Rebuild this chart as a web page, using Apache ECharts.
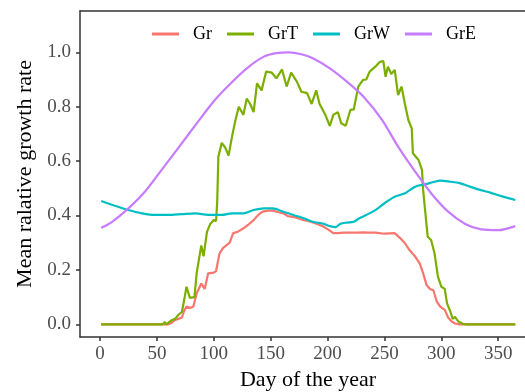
<!DOCTYPE html>
<html>
<head>
<meta charset="utf-8">
<script src="https://cdn.jsdelivr.net/npm/echarts@6/dist/echarts.min.js"></script>
<style>
html,body{margin:0;padding:0;background:#fff;overflow:hidden;}
#c{width:525px;height:392px;}
</style>
</head>
<body>
<div id="c"></div>
<script>
var seriesNames = ['Gr', 'GrT', 'GrW', 'GrE'];
var xTicks = [0, 50, 100, 150, 200, 250, 300, 350];
var yTicks = [0, 0.2, 0.4, 0.6, 0.8, 1.0];

var grDays = [1, 60, 63, 66, 69, 72, 74, 76, 79, 82, 85, 89, 92, 95, 100, 102, 105, 108, 111, 114, 117, 121, 126, 130, 135, 139, 143, 148, 152, 157, 161, 165, 170, 174, 179, 183, 187, 192, 196, 201, 205, 209, 214, 220, 226, 231, 236, 242, 250, 259, 264, 268, 272, 277, 281, 284, 287, 290, 293, 296, 299, 303, 306, 309, 312, 316, 365];
var grVals = [0, 0, 0.006, 0.016, 0.02, 0.025, 0.05, 0.065, 0.06, 0.065, 0.114, 0.15, 0.13, 0.187, 0.19, 0.196, 0.26, 0.28, 0.29, 0.30, 0.335, 0.34, 0.353, 0.365, 0.383, 0.402, 0.414, 0.418, 0.418, 0.412, 0.408, 0.398, 0.395, 0.39, 0.383, 0.38, 0.374, 0.367, 0.36, 0.347, 0.335, 0.335, 0.337, 0.337, 0.337, 0.338, 0.337, 0.337, 0.333, 0.335, 0.316, 0.298, 0.273, 0.249, 0.224, 0.187, 0.145, 0.13, 0.125, 0.083, 0.065, 0.053, 0.025, 0.01, 0.003, 0, 0];

var grtDays = [1, 34, 35, 36, 55, 57, 58, 60, 63, 66, 69, 72, 74, 76, 79, 83, 85, 89, 91, 94, 97, 100, 102, 103, 104, 107, 110, 113, 116, 119, 122, 126, 129, 132, 135, 138, 142, 146, 151, 155, 160, 164, 168, 173, 177, 182, 186, 190, 193, 198, 202, 205, 209, 212, 216, 220, 223, 227, 231, 234, 237, 242, 246, 249, 251, 253, 256, 259, 262, 265, 268, 271, 274, 275, 280, 283, 284, 286, 288, 291, 294, 297, 300, 303, 305, 308, 310, 312, 315, 319, 321, 365];
var grtVals = [0, 0, 0.006, 0, 0, 0.008, 0, 0.005, 0.015, 0.02, 0.035, 0.046, 0.09, 0.138, 0.097, 0.10, 0.19, 0.29, 0.25, 0.34, 0.37, 0.383, 0.38, 0.45, 0.616, 0.667, 0.65, 0.62, 0.69, 0.75, 0.80, 0.77, 0.83, 0.81, 0.78, 0.886, 0.86, 0.929, 0.925, 0.904, 0.937, 0.874, 0.925, 0.892, 0.855, 0.85, 0.81, 0.86, 0.81, 0.77, 0.729, 0.77, 0.78, 0.739, 0.73, 0.788, 0.79, 0.874, 0.898, 0.90, 0.929, 0.947, 0.965, 0.968, 0.91, 0.947, 0.92, 0.935, 0.843, 0.874, 0.81, 0.751, 0.72, 0.629, 0.604, 0.567, 0.494, 0.408, 0.322, 0.31, 0.261, 0.175, 0.138, 0.13, 0.077, 0.046, 0.02, 0.027, 0.01, 0.002, 0, 0];

var grwDays = [1, 13, 25, 37, 48, 60, 72, 84, 95, 107, 116, 126, 135, 144, 152, 161, 170, 179, 187, 196, 202, 207, 211, 217, 223, 228, 234, 242, 250, 259, 268, 277, 286, 294, 299, 308, 316, 325, 334, 343, 352, 365];
var grwVals = [0.453, 0.436, 0.42, 0.408, 0.402, 0.402, 0.405, 0.408, 0.402, 0.402, 0.408, 0.408, 0.42, 0.426, 0.426, 0.414, 0.402, 0.39, 0.377, 0.37, 0.361, 0.357, 0.369, 0.374, 0.377, 0.39, 0.402, 0.42, 0.445, 0.469, 0.482, 0.506, 0.515, 0.524, 0.528, 0.524, 0.519, 0.506, 0.494, 0.484, 0.472, 0.457];

var greDays = [1, 10, 25, 40, 54, 70, 84, 100, 113, 129, 144, 155, 166, 177, 187, 202, 217, 232, 248, 262, 277, 291, 306, 321, 335, 350, 365];
var greVals = [0.355, 0.375, 0.426, 0.49, 0.567, 0.655, 0.733, 0.82, 0.878, 0.941, 0.984, 0.997, 1.0, 0.993, 0.978, 0.941, 0.892, 0.835, 0.751, 0.653, 0.561, 0.482, 0.414, 0.369, 0.349, 0.346, 0.361];

var colors = ['#F8766D', '#7CAE00', '#00BFC4', '#C77CFF'];

function pairs(d, v) { return d.map(function (x, i) { return [x, v[i]]; }); }

var FONT = '"Liberation Serif", "Times New Roman", serif';
var chart = echarts.init(document.getElementById('c'), null, { renderer: 'canvas' });
var dataSets = [pairs(grDays, grVals), pairs(grtDays, grtVals), pairs(grwDays, grwVals), pairs(greDays, greVals)];
var smoothFlags = [false, false, true, true];

chart.setOption({
  animation: false,
  backgroundColor: '#fff',
  color: colors,
  textStyle: { fontFamily: FONT },
  grid: { left: 80, right: -11, top: 11, bottom: 55, show: false, containLabel: false, outerBoundsMode: 'none' },
  legend: {
    data: seriesNames,
    left: 152, top: 25, padding: 0,
    icon: 'rect',
    itemWidth: 27, itemHeight: 3, itemGap: 15,
    textStyle: { fontFamily: FONT, fontSize: 18, color: '#000', padding: [0, 0, 0, 9] }
  },
  xAxis: [{
    type: 'value', min: -17.6, max: 383.2, position: 'bottom',
    name: 'Day of the year', nameLocation: 'middle', nameGap: 29,
    nameTextStyle: { fontFamily: FONT, fontSize: 22, color: '#000' },
    axisLine: { show: true, onZero: false, lineStyle: { color: '#333', width: 1.5 } },
    axisTick: { show: true, length: 4, lineStyle: { color: '#333', width: 1.5 }, customValues: xTicks },
    axisLabel: { fontFamily: FONT, fontSize: 19, color: '#4d4d4d', margin: 8, customValues: xTicks },
    splitLine: { show: false }
  }, {
    type: 'value', min: -17.6, max: 383.2, position: 'top',
    axisLine: { show: true, onZero: false, lineStyle: { color: '#333', width: 1.5 } },
    axisTick: { show: false }, axisLabel: { show: false }, splitLine: { show: false }
  }],
  yAxis: {
    type: 'value', min: -0.0467, max: 1.1518,
    name: 'Mean ralative growth rate', nameLocation: 'middle', nameGap: 44, nameRotate: 90,
    nameTextStyle: { fontFamily: FONT, fontSize: 22, color: '#000' },
    axisLine: { show: true, onZero: false, lineStyle: { color: '#333', width: 1.5 } },
    axisTick: { show: true, length: 4, lineStyle: { color: '#333', width: 1.5 }, customValues: yTicks },
    axisLabel: { fontFamily: FONT, fontSize: 19, color: '#4d4d4d', margin: 9, customValues: yTicks,
      formatter: function (v) { return v.toFixed(1); } },
    splitLine: { show: false }
  },
  series: seriesNames.map(function (n, i) {
    return {
      name: n, type: 'line', data: dataSets[i], symbol: 'none', smooth: smoothFlags[i] ? 0.3 : false,
      xAxisIndex: 0,
      lineStyle: { width: 2.2, color: colors[i] }, itemStyle: { color: colors[i] }, z: 2 + i
    };
  })
});
</script>
</body>
</html>
